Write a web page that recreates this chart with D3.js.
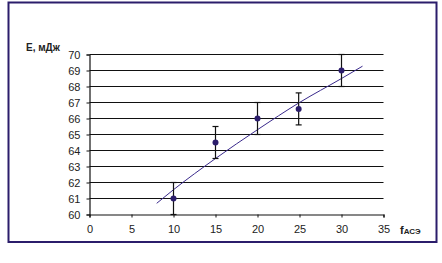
<!DOCTYPE html>
<html>
<head>
<meta charset="utf-8">
<script src="https://cdn.jsdelivr.net/npm/d3@7"></script>
<style>
  body { margin: 0; background: #fff; }
  text { font-family: "Liberation Sans", Arial, sans-serif; }
</style>
</head>
<body>
<script>
// measured points with +/- error
let xVals = [10, 15, 20, 24.9, 30];
let yVals = [61, 64.5, 66, 66.6, 69];
let errVals = [1, 1, 1, 1, 1];
// trend line
let trendX = [8, 10, 15, 20, 25, 30, 32.5];
let trendY = [60.7, 61.55, 63.5, 65.3, 67.0, 68.5, 69.27];
let xTicks = [0, 5, 10, 15, 20, 25, 30, 35];
let yTicks = [60, 61, 62, 63, 64, 65, 66, 67, 68, 69, 70];

let svg = d3.select("body")
            .append("svg")
            .attr("width", 442)
            .attr("height", 263);

// outer frame
svg.append("rect")
    .attr("x", 8.5).attr("y", 2.5)
    .attr("width", 428).attr("height", 239.5)
    .attr("fill", "none")
    .attr("stroke", "#2b1d6b")
    .attr("stroke-width", 2);

let x = d3.scaleLinear().domain([0, 35]).range([89.5, 383.5]);
let y = d3.scaleLinear().domain([60, 70]).range([214.5, 54.5]);

// grid
svg.append("g")
    .selectAll("line")
    .data(yTicks.slice(1))
    .join("line")
    .attr("x1", x(0)).attr("x2", x(35))
    .attr("y1", d => y(d)).attr("y2", d => y(d))
    .attr("stroke", "#111")
    .attr("stroke-width", 1.2);

let xAxis = svg.append("g")
    .attr("transform", `translate(0,${y(60)})`)
    .call(d3.axisBottom(x).tickValues(xTicks).tickSize(3).tickPadding(8));
let yAxis = svg.append("g")
    .attr("transform", `translate(${x(0)},0)`)
    .call(d3.axisLeft(y).tickValues(yTicks).tickSize(3).tickPadding(6));

[xAxis, yAxis].forEach(g => {
    g.select(".domain").attr("stroke", "#111").attr("stroke-width", 1.2);
    g.selectAll(".tick line").attr("stroke", "#111");
    g.selectAll(".tick text")
        .attr("font-size", 11)
        .attr("fill", "#222")
        .attr("font-family", "'Liberation Sans', Arial, sans-serif");
});

// trend line
let line = d3.line()
            .x(d => x(d[0]))
            .y(d => y(d[1]))
            .curve(d3.curveMonotoneX);

svg.append("path")
    .datum(d3.zip(trendX, trendY))
    .attr("d", line)
    .attr("fill", "none")
    .attr("stroke", "#3a2a8c")
    .attr("stroke-width", 1);

// error bars
let pts = d3.zip(xVals, yVals, errVals);
let eb = svg.append("g").attr("stroke", "#111").attr("stroke-width", 1.2);
eb.selectAll(".v").data(pts).join("line")
    .attr("x1", d => x(d[0])).attr("x2", d => x(d[0]))
    .attr("y1", d => y(d[1] - d[2])).attr("y2", d => y(d[1] + d[2]));
eb.selectAll(".top").data(pts).join("line")
    .attr("x1", d => x(d[0]) - 3).attr("x2", d => x(d[0]) + 3)
    .attr("y1", d => y(d[1] + d[2])).attr("y2", d => y(d[1] + d[2]));
eb.selectAll(".bot").data(pts).join("line")
    .attr("x1", d => x(d[0]) - 3).attr("x2", d => x(d[0]) + 3)
    .attr("y1", d => y(d[1] - d[2])).attr("y2", d => y(d[1] - d[2]));

// markers
svg.append("g")
    .selectAll("circle")
    .data(pts)
    .join("circle")
    .attr("cx", d => x(d[0]))
    .attr("cy", d => y(d[1]))
    .attr("r", 3)
    .attr("fill", "#2b1d6b");

// axis titles
svg.append("text")
    .attr("x", 26).attr("y", 51)
    .attr("font-size", 10)
    .attr("font-weight", "bold")
    .attr("fill", "#222")
    .text("E, мДж");

let xt = svg.append("text")
    .attr("x", 400).attr("y", 234)
    .attr("font-size", 11)
    .attr("font-weight", "bold")
    .attr("fill", "#222");
xt.append("tspan").text("f");
xt.append("tspan").attr("font-size", 8).text("АСЭ");
</script>
</body>
</html>
